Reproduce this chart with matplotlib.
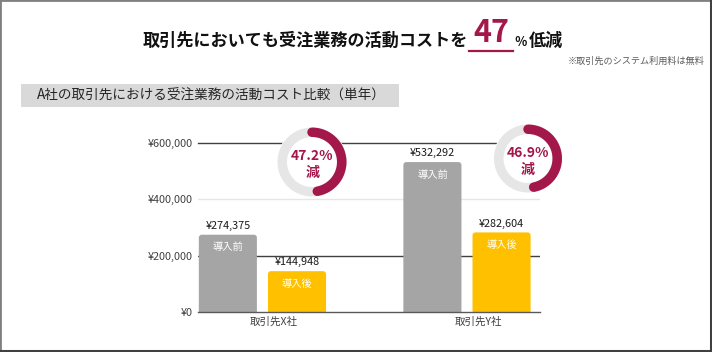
import matplotlib
matplotlib.use("Agg")
import matplotlib.pyplot as plt
import numpy as np
from matplotlib.patches import FancyBboxPatch, Rectangle
from matplotlib.ticker import FuncFormatter
import matplotlib.transforms as mtrans

plt.rcParams['font.family'] = ['Noto Sans CJK JP', 'DejaVu Sans']

# ---- data ----
categories = ["取引先X社", "取引先Y社"]
series_names = ["導入前", "導入後"]
before_values = [274375, 532292]
after_values = [144948, 282604]
yticks = [0, 200000, 400000, 600000]
title_main = "取引先においても受注業務の活動コストを"
title_num = "47"
title_pct = "％"
title_end = "低減"
note_text = "※取引先のシステム利用料は無料"
subtitle = "A社の取引先における受注業務の活動コスト比較（単年）"

GRAY = "#A5A5A5"
YELLOW = "#FFC000"
CRIMSON = "#A3174A"
RING = "#E7E6E6"

W, H = 712, 352
fig = plt.figure(figsize=(W / 100, H / 100), dpi=100)

def fx(x):
    return x / W

def fy(y):
    return 1 - y / H

def rect_px(x0, y0, x1, y1):
    return [fx(x0), fy(y1), (x1 - x0) / W, (y1 - y0) / H]

# ---- border ----
fig.patches.append(Rectangle((0, 0), 1, 1, transform=fig.transFigure, fill=False,
                             edgecolor="#808080", lw=2.0))
fig.add_artist(plt.Line2D([fx(711), fx(711)], [0, 1], color="#404040", lw=2.2, transform=fig.transFigure))
fig.add_artist(plt.Line2D([0, 1], [fy(351), fy(351)], color="#404040", lw=2.2, transform=fig.transFigure))

# ---- title ----
base_y = fy(46)
fig.text(fx(468), base_y, title_main, ha="right", va="baseline", fontsize=12.3,
         fontweight="bold", color="#111111")
fig.text(fx(491), fy(42), title_num, ha="center", va="baseline", fontsize=22,
         fontweight="bold", color=CRIMSON)
fig.add_artist(plt.Line2D([fx(469), fx(513)], [fy(51), fy(51)], color=CRIMSON, lw=1.6,
                          transform=fig.transFigure))
fig.text(fx(514), base_y, title_pct, ha="left", va="baseline", fontsize=9,
         fontweight="bold", color="#111111")
fig.text(fx(529), base_y, title_end, ha="left", va="baseline", fontsize=12.3,
         fontweight="bold", color="#111111")
fig.text(fx(705), fy(61), note_text, ha="right", va="center", fontsize=6.6, color="#595959")

# ---- subtitle band ----
fig.patches.append(Rectangle((fx(21), fy(107)), (399 - 21) / W, (107 - 84) / H,
                             transform=fig.transFigure, facecolor="#D9D9D9", edgecolor="none"))
fig.text(fx(37), fy(95.5), subtitle, ha="left", va="center", fontsize=9.8, color="#262626")

# ---- main axes ----
ax = fig.add_axes(rect_px(198, 143, 540, 312))
x = np.arange(len(categories))
bw = 0.284
off = 0.169
bars_b = ax.bar(x - off, before_values, bw, color=GRAY, zorder=3)
bars_a = ax.bar(x + off, after_values, bw, color=YELLOW, zorder=3)
ax.set_xlim(-0.315, 1.357)
ax.set_ylim(0, 600000)

# round the bar tops
px_per_x = 204.5
px_per_y = 169 / 600000
for bars in (bars_b, bars_a):
    for r in bars:
        x0, w, h = r.get_x(), r.get_width(), r.get_height()
        c = r.get_facecolor()
        r.set_visible(False)
        rad = 3 / px_per_x
        fb = FancyBboxPatch((x0, -20000), w, h + 20000,
                            boxstyle=f"round,pad=0,rounding_size={rad}",
                            mutation_aspect=px_per_x / px_per_y,
                            facecolor=c, edgecolor="none", zorder=3)
        ax.add_patch(fb)

# gridlines
ax.axhline(200000, color="#404040", lw=1.0, zorder=1)
ax.axhline(400000, color="#E6E6E6", lw=1.0, zorder=1)
ax.axhline(600000, color="#404040", lw=1.0, zorder=1, clip_on=False)

for s in ("top", "right", "left"):
    ax.spines[s].set_visible(False)
ax.spines["bottom"].set_color("#595959")
ax.spines["bottom"].set_linewidth(1.0)
ax.spines["bottom"].set_zorder(4)

ax.set_yticks(yticks)
ax.yaxis.set_major_formatter(FuncFormatter(lambda v, p: f"¥{int(v):,}"))
ax.tick_params(axis="y", length=0, pad=3.6, labelsize=7.8, labelcolor="#404040")
ax.set_xticks(x)
ax.set_xticklabels(categories)
ax.tick_params(axis="x", length=0, pad=3.5, labelsize=7.6, labelcolor="#404040")
shift = mtrans.ScaledTranslation(11 / 100, 0, fig.dpi_scale_trans)
for lab in ax.get_xticklabels():
    lab.set_transform(lab.get_transform() + shift)

# value labels
for bars, vals, name in ((bars_b, before_values, series_names[0]),
                         (bars_a, after_values, series_names[1])):
    for r, v in zip(bars, vals):
        cx = r.get_x() + r.get_width() / 2
        ax.annotate(f"¥{v:,}", (cx, v), xytext=(0, 6.3), textcoords="offset points",
                    ha="center", va="center", fontsize=7.8, color="#1a1a1a", zorder=5)
        ax.annotate(name, (cx, v), xytext=(0, -9.0), textcoords="offset points",
                    ha="center", va="center", fontsize=7.4, color="white", zorder=5)

# ---- donuts ----
def donut(cx, cy, r_out, pct):
    half = 42
    dax = fig.add_axes(rect_px(cx - half, cy - half, cx + half, cy + half))
    dax.set_xlim(-half, half)
    dax.set_ylim(-half, half)
    dax.set_aspect("equal")
    dax.axis("off")
    thick = 9.5
    rr = r_out - thick / 2
    lw = thick * 72 / 100
    dax.add_patch(plt.Circle((0, 0), r_out, color="white", zorder=1))
    t = np.linspace(0, 2 * np.pi, 300)
    dax.plot(rr * np.cos(t), rr * np.sin(t), color=RING, lw=lw, zorder=2)
    t2 = np.linspace(np.pi / 2, np.pi / 2 - 2 * np.pi * pct / 100, 200)
    dax.plot(rr * np.cos(t2), rr * np.sin(t2), color=CRIMSON, lw=lw,
             solid_capstyle="round", zorder=3)
    dax.text(0, 5.5, f"{pct:.1f}%", ha="center", va="center", fontsize=10,
             fontweight="bold", color=CRIMSON)
    dax.text(0, -11, "減", ha="center", va="center", fontsize=10,
             fontweight="bold", color=CRIMSON)

reductions = [(b - a) / b * 100 for b, a in zip(before_values, after_values)]
donut(312, 162, 34.5, reductions[0])
donut(528, 158.5, 34.0, reductions[1])

fig.savefig("out.png", dpi=100)
